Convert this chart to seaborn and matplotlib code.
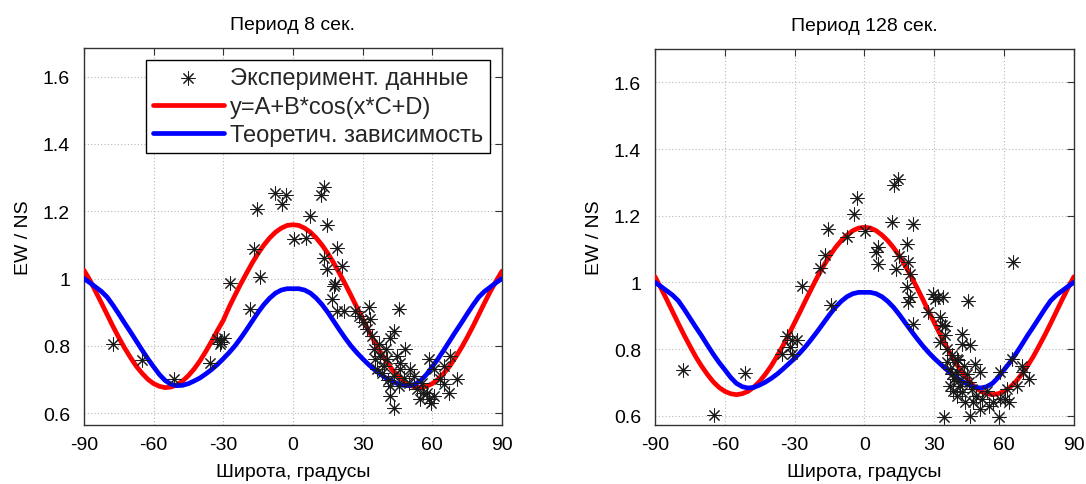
import matplotlib
matplotlib.use("Agg")
import matplotlib.pyplot as plt
import seaborn as sns
from matplotlib.ticker import FixedLocator, FixedFormatter

# ---------------- data ----------------
lat = [-90, -87.5, -85, -82.5, -80, -77.5, -75, -72.5, -70, -67.5, -65, -62.5, -60, -57.5, -55, -52.5,
       -50, -47.5, -45, -42.5, -40, -37.5, -35, -32.5, -30, -27.5, -25, -22.5, -20, -17.5, -15, -12.5,
       -10, -7.5, -5, -2.5, 0, 2.5, 5, 7.5, 10, 12.5, 15, 17.5, 20, 22.5, 25, 27.5, 30, 32.5, 35, 37.5,
       40, 42.5, 45, 47.5, 50, 52.5, 55, 57.5, 60, 62.5, 65, 67.5, 70, 72.5, 75, 77.5, 80, 82.5, 85,
       87.5, 90]

fit_8 = [1.025, 0.996, 0.962, 0.928, 0.893, 0.858, 0.825, 0.794, 0.766, 0.740, 0.719, 0.701, 0.688,
         0.680, 0.676, 0.678, 0.684, 0.696, 0.712, 0.732, 0.756, 0.784, 0.814, 0.846, 0.876, 0.915,
         0.950, 0.984, 1.016, 1.047, 1.075, 1.100, 1.121, 1.138, 1.150, 1.158, 1.160, 1.158, 1.150,
         1.138, 1.121, 1.100, 1.075, 1.047, 1.016, 0.984, 0.950, 0.915, 0.880, 0.846, 0.814, 0.784,
         0.756, 0.732, 0.712, 0.696, 0.684, 0.678, 0.676, 0.680, 0.688, 0.701, 0.719, 0.740, 0.766,
         0.794, 0.825, 0.858, 0.893, 0.928, 0.962, 0.993, 1.022]
theory_8 = [1.000, 0.988, 0.975, 0.962, 0.945, 0.921, 0.895, 0.868, 0.842, 0.815, 0.788, 0.762, 0.738,
            0.715, 0.697, 0.686, 0.682, 0.683, 0.688, 0.696, 0.705, 0.717, 0.730, 0.745, 0.762, 0.780,
            0.800, 0.823, 0.848, 0.874, 0.900, 0.923, 0.942, 0.957, 0.966, 0.970, 0.970, 0.970, 0.966,
            0.957, 0.942, 0.923, 0.900, 0.874, 0.848, 0.823, 0.800, 0.780, 0.762, 0.745, 0.730, 0.717,
            0.705, 0.696, 0.688, 0.683, 0.682, 0.686, 0.697, 0.715, 0.738, 0.762, 0.788, 0.815, 0.842,
            0.868, 0.895, 0.921, 0.945, 0.962, 0.975, 0.988, 1.000]

fit_128 = [1.017, 0.984, 0.949, 0.913, 0.877, 0.842, 0.809, 0.777, 0.749, 0.724, 0.702, 0.685, 0.673,
           0.666, 0.663, 0.666, 0.673, 0.686, 0.703, 0.725, 0.750, 0.779, 0.810, 0.844, 0.879, 0.914,
           0.950, 0.985, 1.019, 1.050, 1.079, 1.104, 1.125, 1.142, 1.155, 1.163, 1.165, 1.163, 1.155,
           1.142, 1.125, 1.104, 1.079, 1.050, 1.019, 0.985, 0.950, 0.914, 0.879, 0.844, 0.810, 0.779,
           0.750, 0.725, 0.703, 0.686, 0.673, 0.666, 0.663, 0.666, 0.673, 0.685, 0.702, 0.724, 0.749,
           0.777, 0.809, 0.842, 0.877, 0.913, 0.949, 0.984, 1.017]
theory_128 = [1.000, 0.988, 0.975, 0.962, 0.945, 0.920, 0.893, 0.866, 0.840, 0.812, 0.785, 0.760, 0.738,
              0.715, 0.697, 0.687, 0.683, 0.685, 0.692, 0.701, 0.712, 0.725, 0.740, 0.756, 0.772, 0.790,
              0.810, 0.832, 0.855, 0.879, 0.903, 0.925, 0.943, 0.957, 0.966, 0.970, 0.970, 0.970, 0.966,
              0.957, 0.943, 0.925, 0.903, 0.879, 0.855, 0.832, 0.810, 0.790, 0.772, 0.756, 0.740, 0.725,
              0.712, 0.701, 0.692, 0.685, 0.683, 0.687, 0.697, 0.715, 0.738, 0.760, 0.785, 0.812, 0.840,
              0.866, 0.893, 0.920, 0.945, 0.962, 0.975, 0.988, 1.000]

exp8_x = [-77.7, -65.1, -51.4, -35.9, -32.8, -29.9, -31.3, -31.0, -27.0, -18.7, -16.8, -15.5, -14.1,
          -7.6, -4.7, -2.9, 0.6, 5.7, 7.2, 12.1, 13.2, 14.7, 13.2, 14.7, 19.0, 21.1, 18.2, 17.5, 17.0,
          19.0, 21.8, 26.9, 28.5, 32.6, 45.5, 30.0, 33.3, 31.9, 34.1, 43.4, 42.0, 48.4, 34.8, 37.0,
          37.6, 40.5, 44.8, 36.2, 39.1, 43.4, 46.3, 50.6, 52.0, 42.0, 45.5, 42.0, 43.4, 53.4, 54.9,
          58.5, 57.8, 58.5, 60.6, 63.5, 64.9, 67.1, 67.8, 70.7, 64.9, 55.6, 60.6, 49.9, 47.7, 38.5,
          40.0, 35.5, 41.0, 46.0, 56.0, 59.5]
exp8_y = [0.807, 0.758, 0.701, 0.750, 0.820, 0.825, 0.805, 0.812, 0.986, 0.911, 1.089, 1.208, 1.005,
          1.255, 1.221, 1.248, 1.117, 1.122, 1.186, 1.248, 1.273, 1.158, 1.062, 1.030, 1.090, 1.038,
          0.983, 0.978, 0.939, 0.904, 0.904, 0.904, 0.890, 0.917, 0.909, 0.870, 0.879, 0.850, 0.830,
          0.845, 0.825, 0.790, 0.790, 0.805, 0.770, 0.760, 0.770, 0.731, 0.741, 0.711, 0.731, 0.731,
          0.711, 0.681, 0.681, 0.651, 0.617, 0.671, 0.642, 0.642, 0.661, 0.760, 0.731, 0.701, 0.686,
          0.661, 0.770, 0.701, 0.741, 0.691, 0.651, 0.691, 0.706, 0.720, 0.790, 0.760, 0.700, 0.750,
          0.660, 0.630]

exp128_x = [-77.8, -64.5, -51.3, -35.5, -33.4, -31.2, -29.1, -31.2, -32.0, -26.9, -19.1, -16.9, -15.8,
            -14.3, -7.6, -4.7, -3.0, 0.3, 5.0, 6.0, 6.0, 12.0, 12.5, 14.6, 20.7, 18.1, 15.0, 18.9, 13.6,
            19.6, 18.1, 19.6, 18.9, 21.0, 27.4, 29.6, 31.7, 33.9, 30.3, 44.6, 64.0, 32.4, 33.2, 32.4,
            34.7, 34.6, 41.7, 35.4, 37.5, 41.8, 40.4, 39.6, 45.4, 36.8, 39.7, 42.6, 47.6, 49.7, 36.7,
            38.3, 41.1, 44.7, 39.7, 43.3, 46.8, 45.4, 34.1, 49.7, 52.6, 55.4, 57.6, 58.3, 58.3, 61.9,
            61.2, 63.3, 67.6, 70.5, 65.5, 68.3, 60.5, 37.5, 40.0, 42.0, 44.0, 38.0, 35.5, 46.0, 48.0,
            50.5, 53.5]
exp128_y = [0.737, 0.602, 0.728, 0.786, 0.839, 0.826, 0.826, 0.786, 0.805, 0.989, 1.043, 1.083, 1.159,
            0.933, 1.135, 1.205, 1.252, 1.155, 1.090, 1.105, 1.055, 1.180, 1.292, 1.309, 1.175, 1.115,
            1.080, 1.060, 1.040, 1.025, 0.985, 0.955, 0.940, 0.875, 0.910, 0.965, 0.955, 0.955, 0.950,
            0.945, 1.061, 0.895, 0.871, 0.820, 0.841, 0.870, 0.845, 0.801, 0.781, 0.816, 0.766, 0.770,
            0.811, 0.740, 0.730, 0.750, 0.756, 0.730, 0.690, 0.710, 0.690, 0.700, 0.660, 0.640, 0.640,
            0.600, 0.595, 0.620, 0.675, 0.640, 0.595, 0.650, 0.730, 0.640, 0.680, 0.771, 0.750, 0.710,
            0.690, 0.730, 0.650, 0.725, 0.705, 0.670, 0.725, 0.675, 0.760, 0.680, 0.660, 0.650, 0.630]

xticks = [-90, -60, -30, 0, 30, 60, 90]
xtick_labels = ["-90", "-60", "-30", "0", "30", "60", "90"]
yticks = [0.6, 0.8, 1.0, 1.2, 1.4, 1.6]
ytick_labels = ["0.6", "0.8", "1", "1.2", "1.4", "1.6"]
titles = ["Период 8 сек.", "Период 128 сек."]
xlabel_text = "Широта, градусы"
ylabel_text = "EW / NS"
legend_labels = ["Эксперимент. данные", "y=A+B*cos(x*C+D)", "Теоретич. зависимость"]

# ---------------- style ----------------
sns.set_theme(style="white")
plt.rcParams["font.family"] = ["Liberation Sans", "DejaVu Sans"]
plt.rcParams["axes.unicode_minus"] = False
FS = 14
LEG_FS = 17

fig = plt.figure(figsize=(10.86, 4.85), dpi=100)
ax1 = fig.add_axes([0.0773, 0.1216, 0.3849, 0.7773])
ax2 = fig.add_axes([0.6031, 0.1216, 0.3858, 0.7753])

panels = [
    (ax1, fit_8, theory_8, exp8_x, exp8_y, titles[0], (0.565, 1.685), True),
    (ax2, fit_128, theory_128, exp128_x, exp128_y, titles[1], (0.572, 1.70), False),
]

star = (8, 2, 0)

for ax, fit, th, ex, ey, title, ylim, show_leg in panels:
    sns.lineplot(x=lat, y=fit, color="#ff0000", linewidth=3.4, ax=ax,
                 sort=False, estimator=None, zorder=3)
    sns.lineplot(x=lat, y=th, color="#0000ff", linewidth=3.4, ax=ax,
                 sort=False, estimator=None, zorder=3)
    sns.scatterplot(x=ex, y=ey, marker=star, color="#1a1a1a", s=90,
                    linewidth=0.75, ax=ax, zorder=4)

    ax.set_xlim(-90, 90)
    ax.set_ylim(*ylim)
    ax.xaxis.set_major_locator(FixedLocator(xticks))
    ax.xaxis.set_major_formatter(FixedFormatter(xtick_labels))
    ax.yaxis.set_major_locator(FixedLocator(yticks))
    ax.yaxis.set_major_formatter(FixedFormatter(ytick_labels))
    ax.grid(True, linestyle=(0, (1, 2)), color="#b8b8b8", linewidth=0.8)
    ax.set_axisbelow(True)
    ax.tick_params(axis="both", direction="in", length=5, width=0.8,
                   color="#333333", top=True, right=True, labelsize=FS,
                   labelcolor="black")
    ax.tick_params(axis="y", pad=10)
    ax.tick_params(axis="x", pad=8)
    for sp in ax.spines.values():
        sp.set_color("#333333")
        sp.set_linewidth(1.0)
    ax.set_title(title, fontsize=FS, pad=14, color="black")
    ax.set_xlabel(xlabel_text, fontsize=FS, labelpad=7, color="black")
    ax.set_ylabel(ylabel_text, fontsize=FS, labelpad=8, color="black")

    if ax.get_legend() is not None:
        ax.get_legend().remove()

    if show_leg:
        handles = [ax.collections[0], ax.lines[0], ax.lines[1]]
        leg = ax.legend(handles, legend_labels, loc="upper right",
                        bbox_to_anchor=(0.971, 0.968), borderaxespad=0,
                        frameon=True, fancybox=False, edgecolor="black",
                        framealpha=1, fontsize=LEG_FS, handlelength=3.0,
                        handletextpad=0.25, labelspacing=0.28, borderpad=0.3,
                        scatterpoints=1)
        leg.get_frame().set_linewidth(1.0)

fig.savefig("out.png", dpi=100)
